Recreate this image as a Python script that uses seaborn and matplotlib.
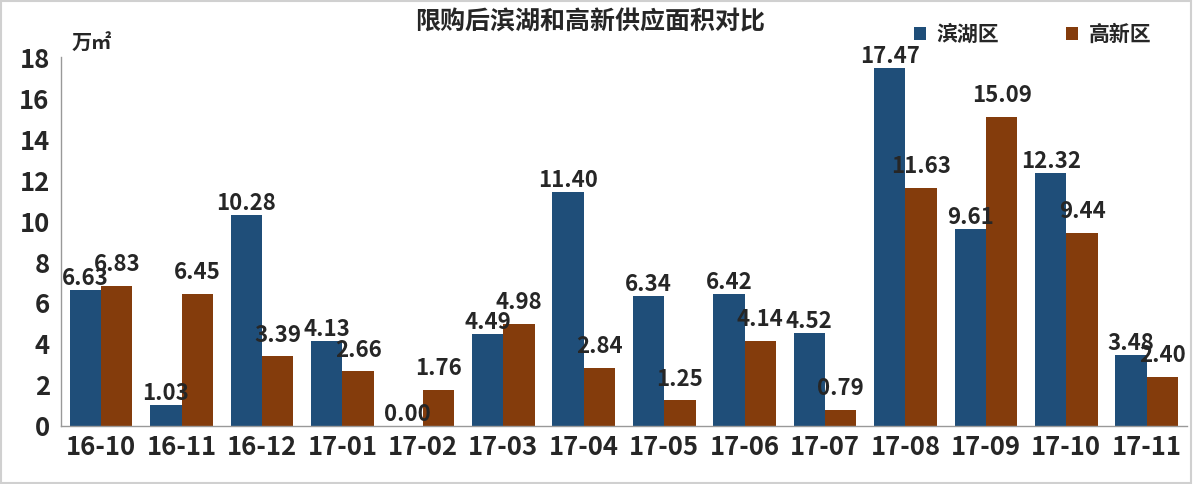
import numpy as np
import pandas as pd
import matplotlib
matplotlib.use("Agg")
import matplotlib.pyplot as plt
import seaborn as sns

sns.set_style("white")
plt.rcParams['font.family'] = ['Noto Sans CJK SC', 'DejaVu Sans']

months = ["16-10", "16-11", "16-12", "17-01", "17-02", "17-03", "17-04",
          "17-05", "17-06", "17-07", "17-08", "17-09", "17-10", "17-11"]
binhu = [6.63, 1.03, 10.28, 4.13, 0.00, 4.49, 11.40,
         6.34, 6.42, 4.52, 17.47, 9.61, 12.32, 3.48]
gaoxin = [6.83, 6.45, 3.39, 2.66, 1.76, 4.98, 2.84,
          1.25, 4.14, 0.79, 11.63, 15.09, 9.44, 2.40]
series = ["滨湖区", "高新区"]
colors = ["#1F4E79", "#843C0C"]

df = pd.DataFrame({
    "month": months * 2,
    "area": binhu + gaoxin,
    "region": [series[0]] * len(months) + [series[1]] * len(months),
})

fig = plt.figure(figsize=(11.93, 4.84), dpi=100)
ax = fig.add_axes([0.051, 0.12, 0.944, 0.762])

sns.barplot(data=df, x="month", y="area", hue="region", palette=colors,
            width=0.78, saturation=1, linewidth=0, ax=ax, legend=True)

ax.set_ylim(0, 18)
ax.set_yticks(np.arange(0, 19, 2))
ax.set_xlim(-0.5, len(months) - 0.5)
ax.set_xlabel("")
ax.set_ylabel("")
ax.tick_params(axis="y", labelsize=18.5, length=5, color="#999999", pad=3)
ax.tick_params(axis="x", labelsize=18.5, length=0, pad=6)
for lab in ax.get_xticklabels() + ax.get_yticklabels():
    lab.set_fontweight("bold")

for side in ["top", "right"]:
    ax.spines[side].set_visible(False)
for side in ["left", "bottom"]:
    ax.spines[side].set_color("#999999")
    ax.spines[side].set_linewidth(1)

# blue labels sit on the bar, brown ones a bit higher (as in the original)
for cont, pad in zip(ax.containers, [0, 7]):
    ax.bar_label(cont, fmt="%.2f", fontsize=16, fontweight="bold", padding=pad)

ax.legend(loc="upper right", bbox_to_anchor=(0.985, 1.14), ncol=2, frameon=False,
          handlelength=0.6, handleheight=0.6, columnspacing=3.2, handletextpad=0.5,
          prop={"weight": "bold", "size": 15})

fig.text(0.495, 0.953, "限购后滨湖和高新供应面积对比", ha="center", va="center",
         fontsize=18, fontweight="bold")
fig.text(0.06, 0.912, "万㎡", ha="left", va="center", fontsize=14.5, fontweight="bold")

fig.patches.append(plt.Rectangle((0.001, 0.002), 0.997, 0.995, transform=fig.transFigure,
                                 fill=False, edgecolor="#d0d0d0", linewidth=1.5))

fig.savefig("out.png", dpi=100)
